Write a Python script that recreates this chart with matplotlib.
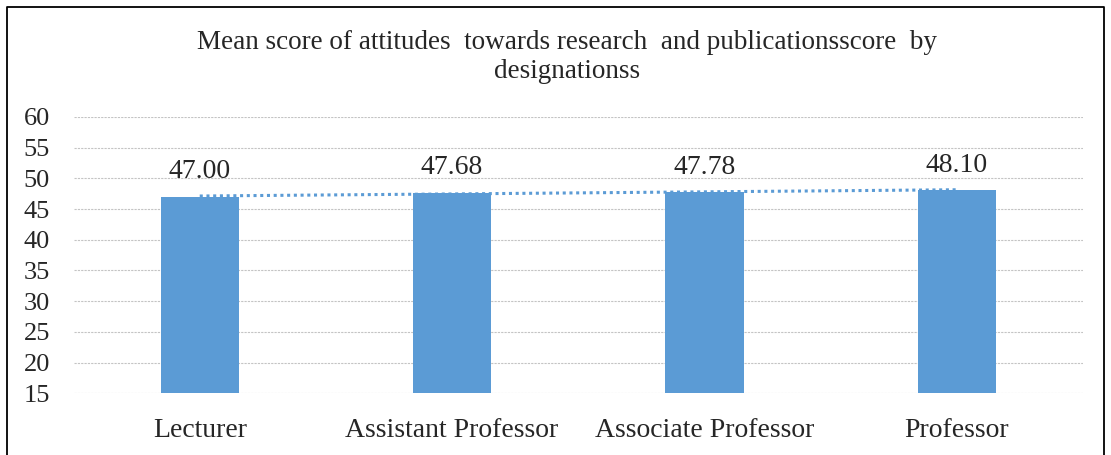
import matplotlib
matplotlib.use("Agg")
import matplotlib.pyplot as plt
from matplotlib.lines import Line2D
import numpy as np

categories = ["Lecturer", "Assistant Professor", "Associate Professor", "Professor"]
values = [47.00, 47.68, 47.78, 48.10]
yticks = [15, 20, 25, 30, 35, 40, 45, 50, 55, 60]
title = "Mean score of attitudes  towards research  and publicationsscore  by\ndesignationss"

plt.rcParams['font.family'] = ['Liberation Serif', 'DejaVu Serif']

fig = plt.figure(figsize=(11.11, 4.55), dpi=100)
ax = fig.add_axes([0.0662, 0.1356, 0.9086, 0.6073])

x = np.arange(len(categories))
bar_color = "#5B9BD5"
ax.bar(x, values, width=0.31, color=bar_color, zorder=3)

# linear trendline
coef = np.polyfit(x, values, 1)
ax.plot(x, np.polyval(coef, x), linestyle=(0, (1, 1.2)), color=bar_color, lw=2.2, zorder=4)

for xi, v in zip(x, values):
    ax.annotate(f"{v:.2f}", (xi, v), xytext=(0, 18), textcoords="offset points",
                ha="center", va="center", fontsize=20, color="#262626")

ax.set_xlim(-0.5, len(categories) - 0.5)
ax.set_ylim(15, 60)
ax.set_yticks(yticks)
ax.set_xticks(x)
ax.set_xticklabels(categories, fontsize=20)
ax.tick_params(axis='y', length=0, pad=17, labelsize=19, colors="#262626")
ax.tick_params(axis='x', length=0, pad=17.5, colors="#262626")
for s in ax.spines.values():
    s.set_visible(False)
ax.grid(axis='y', color="#c4c4c4", lw=0.8, linestyle=(0, (2, 1)), zorder=0)

fig.text(0.5108, 0.8747, title, ha="center", va="center", fontsize=19.5,
         color="#262626", linespacing=1.22)

# outer border (left, top, right)
bl, bt, br = 6.5 / 1111, 1 - 7 / 455, 1104 / 1111
fig.add_artist(Line2D([bl, bl, br, br], [-0.01, bt, bt, -0.01], transform=fig.transFigure,
                      color="black", lw=1.3))

fig.savefig("out.png", dpi=100)
